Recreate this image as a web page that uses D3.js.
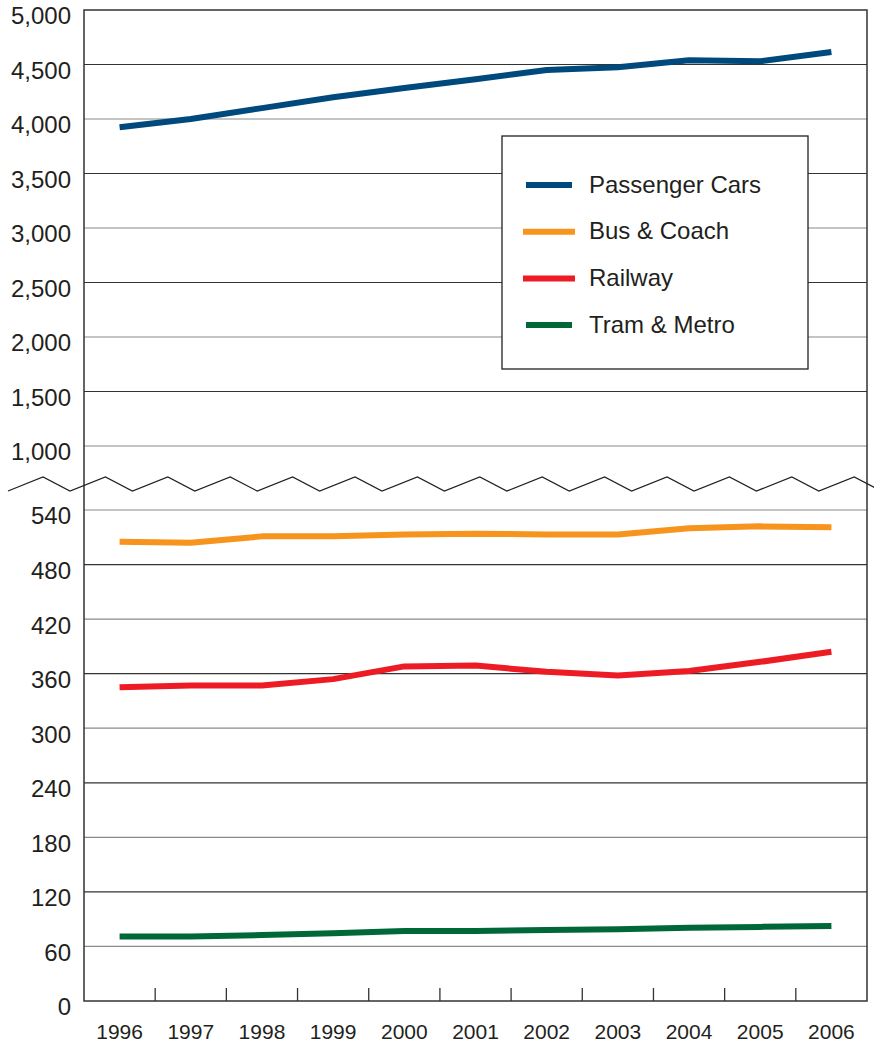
<!DOCTYPE html>
<html>
<head>
<meta charset="utf-8">
<script src="https://cdn.jsdelivr.net/npm/d3@7"></script>
<style>
  body { margin: 0; background: #fff; }
  text { font-family: "Liberation Sans", Arial, sans-serif; fill: #231f20; }
</style>
</head>
<body>
<div id="chart"></div>
<script>
let years = ["1996", "1997", "1998", "1999", "2000", "2001", "2002", "2003", "2004", "2005", "2006"]
let passengerCars = [3925, 4000, 4100, 4200, 4285, 4365, 4450, 4475, 4540, 4530, 4615]
let busCoach = [505, 504, 511, 511, 513, 514, 513, 513, 520, 522, 521]
let railway = [345, 347, 347, 354, 368, 369, 362, 358, 363, 373, 384]
let tramMetro = [71, 71, 72.5, 74.5, 77, 77, 78, 79, 80.5, 81.5, 82.5]
let topTicks = [1000, 1500, 2000, 2500, 3000, 3500, 4000, 4500, 5000]
let bottomTicks = [0, 60, 120, 180, 240, 300, 360, 420, 480, 540]
let seriesNames = ["Passenger Cars", "Bus & Coach", "Railway", "Tram & Metro"]
let seriesColors = ["#00497c", "#f7941d", "#ed1c24", "#006838"]

let width = 874, height = 1044
let plotLeft = 84, plotRight = 867, plotTop = 10, plotBottom = 1001

let svg = d3.select("#chart")
  .append("svg")
  .attr("width", width)
  .attr("height", height)

let x = d3.scaleBand()
  .domain(years)
  .range([plotLeft, plotRight])

let yTop = d3.scaleLinear()
  .domain([1000, 5000])
  .range([446, plotTop])
let yBot = d3.scaleLinear()
  .domain([0, 540])
  .range([plotBottom, 510])

// gridlines, alternating dark / grey
svg.append("g")
  .selectAll("line")
  .data(topTicks.filter(d => d < 5000))
  .enter()
  .append("line")
    .attr("x1", plotLeft).attr("x2", plotRight)
    .attr("y1", d => yTop(d)).attr("y2", d => yTop(d))
    .attr("stroke", d => d % 1000 === 0 ? "#8a8a8a" : "#333")
    .attr("stroke-width", 1.2)

svg.append("g")
  .selectAll("line")
  .data(bottomTicks.filter(d => d > 0))
  .enter()
  .append("line")
    .attr("x1", plotLeft).attr("x2", plotRight)
    .attr("y1", d => yBot(d)).attr("y2", d => yBot(d))
    .attr("stroke", d => (d / 60) % 2 === 0 ? "#333" : "#8a8a8a")
    .attr("stroke-width", 1.2)

// y labels (sit a little below their gridline, as in the original)
function styleLabels(g) {
  g.select(".domain").remove()
  g.selectAll("text")
    .attr("dy", "0.58em")
    .style("font-size", "24px")
    .attr("fill", "#231f20")
    .style("font-family", "Liberation Sans, Arial, sans-serif")
}

svg.append("g")
  .attr("transform", "translate(" + plotLeft + ",0)")
  .call(d3.axisLeft(yTop).tickValues(topTicks).tickSize(0).tickPadding(13).tickFormat(d3.format(",")))
  .call(styleLabels)

svg.append("g")
  .attr("transform", "translate(" + plotLeft + ",0)")
  .call(d3.axisLeft(yBot).tickValues(bottomTicks).tickSize(0).tickPadding(13))
  .call(styleLabels)

// x axis: ticks between categories, pointing up
svg.append("g")
  .selectAll("line")
  .data(years.slice(1))
  .enter()
  .append("line")
    .attr("x1", d => x(d)).attr("x2", d => x(d))
    .attr("y1", plotBottom - 13).attr("y2", plotBottom)
    .attr("stroke", "#333")
    .attr("stroke-width", 1.3)

svg.append("g")
  .selectAll("text")
  .data(years)
  .enter()
  .append("text")
    .attr("x", d => x(d) + x.bandwidth() / 2)
    .attr("y", 1039)
    .attr("text-anchor", "middle")
    .style("font-size", "21px")
    .text(d => d)

// frame
svg.append("rect")
  .attr("x", plotLeft).attr("y", plotTop)
  .attr("width", plotRight - plotLeft).attr("height", plotBottom - plotTop)
  .attr("fill", "none")
  .attr("stroke", "#333")
  .attr("stroke-width", 1.5)

// break zigzag
let pts = [[8, 491]]
for (let k = 0; k < 15; k++) {
  pts.push([43 + 62.4 * k, 477])
  pts.push([70 + 62.4 * k, 491])
}
svg.append("path")
  .attr("d", d3.line()(pts.filter(p => p[0] < 890)))
  .attr("fill", "none")
  .attr("stroke", "#231f20")
  .attr("stroke-width", 1.2)

// lines
let line = (scale) => d3.line()
  .x((d, i) => x(years[i]) + x.bandwidth() / 2)
  .y(d => scale(d))

let series = [
  { values: passengerCars, scale: yTop },
  { values: busCoach, scale: yBot },
  { values: railway, scale: yBot },
  { values: tramMetro, scale: yBot }
]
series.forEach((s, i) => {
  svg.append("path")
    .attr("d", line(s.scale)(s.values))
    .attr("fill", "none")
    .attr("stroke", seriesColors[i])
    .attr("stroke-width", 6)
    .attr("stroke-linejoin", "round")
})

// legend
let legend = svg.append("g")
legend.append("rect")
  .attr("x", 502).attr("y", 136)
  .attr("width", 306).attr("height", 233)
  .attr("fill", "#fff")
  .attr("stroke", "#231f20")
  .attr("stroke-width", 1.3)
seriesNames.forEach((name, i) => {
  let ly = 185 + i * 46.7
  legend.append("line")
    .attr("x1", i === 0 || i === 3 ? 526 : 523).attr("x2", i === 0 || i === 3 ? 572 : 575)
    .attr("y1", ly).attr("y2", ly)
    .attr("stroke", seriesColors[i])
    .attr("stroke-width", 6)
  legend.append("text")
    .attr("x", 589).attr("y", ly + 7.5)
    .style("font-size", "24px")
    .text(name)
})
</script>
</body>
</html>
